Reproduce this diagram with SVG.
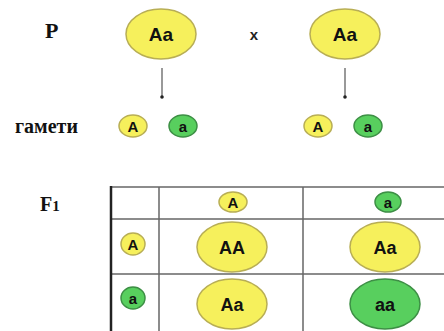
<svg xmlns="http://www.w3.org/2000/svg" width="444" height="331" viewBox="0 0 444 331">
<style>
.lbl{font-family:"Liberation Serif","Times New Roman",serif;font-weight:bold;fill:#111}
.g{font-family:"Liberation Sans",Arial,sans-serif;font-weight:bold;fill:#111;text-anchor:middle}
.y{fill:#f6f05c;stroke:#b8ae55;stroke-width:1.5}
.gr{fill:#58cf5e;stroke:#3d8f45;stroke-width:1.5}
.grid{stroke:#666;stroke-width:1.5;fill:none}
.arr{stroke:#777;stroke-width:1.5}
</style>
<rect width="444" height="331" fill="#fff"/>
<text class="lbl" x="45" y="38" font-size="22">P</text>
<text class="lbl" x="15" y="133" font-size="20">гамети</text>
<text class="lbl" x="40" y="211" font-size="20">F<tspan font-size="15">1</tspan></text>
<text x="254" y="40" font-family="Liberation Sans,Arial,sans-serif" font-weight="bold" font-size="15" text-anchor="middle" fill="#222">x</text>
<g id="connectors">
<line class="arr" x1="162" y1="68" x2="162" y2="96"/><circle cx="162" cy="97" r="1.8" fill="#222"/>
<line class="arr" x1="345" y1="68" x2="345" y2="96"/><circle cx="345" cy="97" r="1.8" fill="#222"/>
</g>
<g id="p1"><ellipse class="y" cx="161" cy="34" rx="35" ry="25"/><text class="g" x="161" y="41" font-size="19">Aa</text></g>
<g id="p2"><ellipse class="y" cx="345" cy="34" rx="35" ry="25"/><text class="g" x="345" y="41" font-size="19">Aa</text></g>
<g id="g1"><ellipse class="y" cx="133" cy="126" rx="14" ry="11"/><text class="g" x="133" y="131.5" font-size="15">A</text></g>
<g id="g2"><ellipse class="gr" cx="183" cy="126" rx="14" ry="11"/><text class="g" x="183" y="131.5" font-size="15">a</text></g>
<g id="g3"><ellipse class="y" cx="318" cy="126" rx="14" ry="11"/><text class="g" x="318" y="131.5" font-size="15">A</text></g>
<g id="g4"><ellipse class="gr" cx="368" cy="126" rx="14" ry="11"/><text class="g" x="368" y="131.5" font-size="15">a</text></g>
<g id="table">
<line class="grid" x1="111" y1="187" x2="444" y2="187"/>
<line class="grid" x1="111" y1="219" x2="444" y2="219"/>
<line class="grid" x1="111" y1="274" x2="444" y2="274"/>
<line class="grid" x1="159" y1="187" x2="159" y2="331"/>
<line class="grid" x1="303" y1="187" x2="303" y2="331"/>
<line x1="111" y1="186" x2="111" y2="331" stroke="#222" stroke-width="2.5"/>
</g>
<g id="h1"><ellipse class="y" cx="233" cy="202" rx="14" ry="10"/><text class="g" x="233" y="207.5" font-size="15">A</text></g>
<g id="h2"><ellipse class="gr" cx="388" cy="202" rx="13" ry="10"/><text class="g" x="388" y="207.5" font-size="15">a</text></g>
<g id="r1"><ellipse class="y" cx="133" cy="244" rx="12" ry="11"/><text class="g" x="133" y="249.5" font-size="15">A</text></g>
<g id="r2"><ellipse class="gr" cx="133" cy="298" rx="12" ry="11"/><text class="g" x="133" y="303.5" font-size="15">a</text></g>
<g id="c11"><ellipse class="y" cx="232" cy="247" rx="35" ry="25"/><text class="g" x="232" y="254" font-size="18">AA</text></g>
<g id="c12"><ellipse class="y" cx="385" cy="247" rx="35" ry="25"/><text class="g" x="385" y="254" font-size="18">Aa</text></g>
<g id="c21"><ellipse class="y" cx="232" cy="304" rx="35" ry="25"/><text class="g" x="232" y="311" font-size="18">Aa</text></g>
<g id="c22"><ellipse class="gr" cx="385" cy="304" rx="35" ry="25"/><text class="g" x="385" y="311" font-size="18">aa</text></g>
</svg>
